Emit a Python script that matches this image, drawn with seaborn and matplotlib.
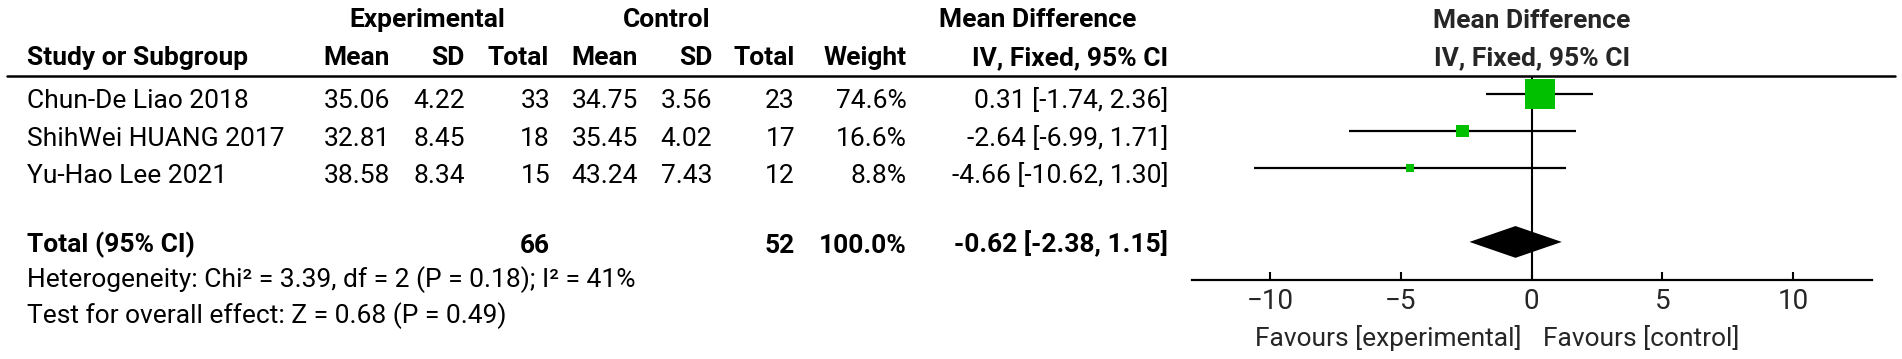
import pandas as pd
import numpy as np
import seaborn as sns
import matplotlib.pyplot as plt
from matplotlib.lines import Line2D
import matplotlib.transforms as mtransforms

# data
studies = ["Chun-De Liao 2018", "ShihWei HUANG 2017", "Yu-Hao Lee 2021"]
exp_mean = [35.06, 32.81, 38.58]
exp_sd = [4.22, 8.45, 8.34]
exp_n = [33, 18, 15]
ctl_mean = [34.75, 35.45, 43.24]
ctl_sd = [3.56, 4.02, 7.43]
ctl_n = [23, 17, 12]
weight = [74.6, 16.6, 8.8]
md = [0.31, -2.64, -4.66]
ci_lo = [-1.74, -6.99, -10.62]
ci_hi = [2.36, 1.71, 1.30]

total_exp_n = 66
total_ctl_n = 52
total_weight = 100.0
total_md = -0.62
total_lo = -2.38
total_hi = 1.15

het_text = "Heterogeneity: Chi\u00b2 = 3.39, df = 2 (P = 0.18); I\u00b2 = 41%"
effect_text = "Test for overall effect: Z = 0.68 (P = 0.49)"
ticks = [-10, -5, 0, 5, 10]

sns.set_theme(style="white")
plt.rcParams['font.family'] = ['Roboto', 'DejaVu Sans']
FS = 19

W, H = 1902, 359
fig = plt.figure(figsize=(W / 100, H / 100), dpi=100)


def fx(px):
    return px / W


def fy(py):
    return 1 - py / H


def put(px, py, s, ha='left', bold=False, size=FS):
    fig.text(fx(px), fy(py), s, ha=ha, va='baseline', fontsize=size,
             fontweight='bold' if bold else 'normal', color='black')


# header
put(427, 27, "Experimental", ha='center', bold=True)
put(667, 27, "Control", ha='center', bold=True)
put(1038, 27, "Mean Difference", ha='center', bold=True)
put(27, 65, "Study or Subgroup", bold=True)
for x, lab in zip([390, 465, 549, 638, 712, 795, 907, 1168],
                  ["Mean", "SD", "Total", "Mean", "SD", "Total", "Weight", "IV, Fixed, 95% CI"]):
    put(x, 65, lab, ha='right', bold=True)

fig.add_artist(Line2D([fx(7), fx(1895)], [fy(76), fy(76)], color='black', lw=1.8))

# study rows
row_base = [108.3, 145.7, 183]
for i, name in enumerate(studies):
    yb = row_base[i]
    put(27, yb, name)
    put(390, yb, f"{exp_mean[i]:.2f}", ha='right')
    put(465, yb, f"{exp_sd[i]:.2f}", ha='right')
    put(550, yb, f"{exp_n[i]}", ha='right')
    put(638, yb, f"{ctl_mean[i]:.2f}", ha='right')
    put(712, yb, f"{ctl_sd[i]:.2f}", ha='right')
    put(795, yb, f"{ctl_n[i]}", ha='right')
    put(907, yb, f"{weight[i]:.1f}%", ha='right')
    put(1168, yb, f"{md[i]:.2f} [{ci_lo[i]:.2f}, {ci_hi[i]:.2f}]", ha='right')

# total row
put(27, 252.7, "Total (95% CI)", bold=True)
put(550, 252.7, f"{total_exp_n}", ha='right', bold=True)
put(795, 252.7, f"{total_ctl_n}", ha='right', bold=True)
put(907, 252.7, f"{total_weight:.1f}%", ha='right', bold=True)
put(1168, 252.7, f"{total_md:.2f} [{total_lo:.2f}, {total_hi:.2f}]", ha='right', bold=True)
put(27, 286.7, het_text)
put(27, 323.3, effect_text)

# forest axes
left, right = 1191.7, 1871.7
top, bottom = 76, 280
ax = fig.add_axes([fx(left), fy(bottom), fx(right) - fx(left), fy(top) - fy(bottom)])
ax.patch.set_alpha(0)

df = pd.DataFrame({"row": [0, 1, 2], "md": md, "lo": ci_lo, "hi": ci_hi, "weight": weight})
total_row = 4

ax.axvline(0, color='black', lw=1.5, zorder=1)
ax.hlines(df["row"], df["lo"], df["hi"], color='black', lw=1.6, zorder=2)
sns.scatterplot(data=df, x="md", y="row", size="weight", sizes=(30, 480), marker='s',
                color='#00c000', edgecolor='none', linewidth=0, legend=False, ax=ax, zorder=3)
ax.fill([total_lo, total_md, total_hi, total_md],
        [total_row, total_row - 0.43, total_row, total_row + 0.43],
        color='black', lw=0, zorder=4)

ax.set_xlim(-13, 13)
ax.set_ylim(5.03, -0.49)
ax.set_xlabel("")
ax.set_ylabel("")
ax.set_yticks([])
ax.set_xticks(ticks)
ax.set_xticklabels([str(t).replace("-", "\u2212") for t in ticks])
for s in ["top", "left", "right"]:
    ax.spines[s].set_visible(False)
ax.spines["bottom"].set_color('black')
ax.spines["bottom"].set_linewidth(1.6)
ax.tick_params(axis='x', direction='in', length=6, width=1.5, color='black',
               labelsize=FS + 1, pad=6, bottom=True)

# column headers above the plot and favours labels under it
trans = mtransforms.blended_transform_factory(ax.transData, fig.transFigure)
ax.text(0, fy(28.3), "Mean Difference", transform=trans, ha='center', va='baseline',
        fontsize=FS, fontweight='bold')
ax.text(0, fy(65), "IV, Fixed, 95% CI", transform=trans, ha='center', va='baseline',
        fontsize=FS, fontweight='bold')
ax.text(-0.38, fy(345.7), "Favours [experimental]", transform=trans, ha='right',
        va='baseline', fontsize=FS)
ax.text(0.44, fy(345.7), "Favours [control]", transform=trans, ha='left',
        va='baseline', fontsize=FS)

fig.savefig("out.png", dpi=100)
